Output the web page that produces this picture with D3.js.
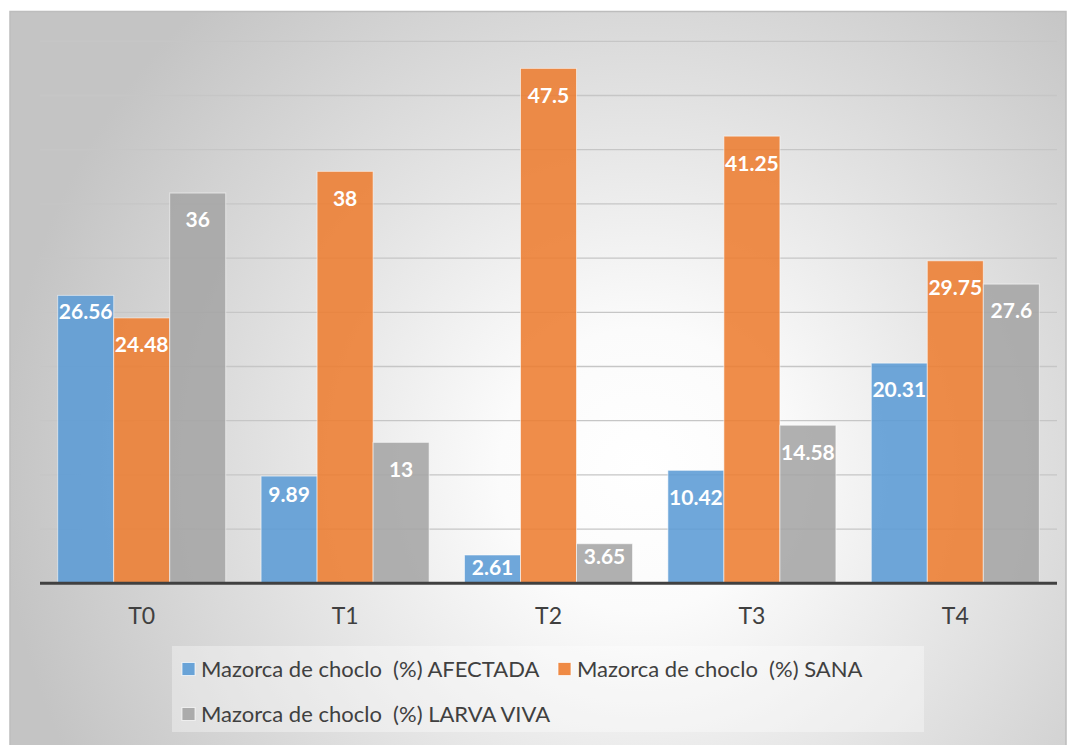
<!DOCTYPE html>
<html>
<head>
<meta charset="utf-8">
<script src="https://cdn.jsdelivr.net/npm/d3@7"></script>
<style>
  html, body { margin: 0; padding: 0; background: #ffffff; }
  svg { display: block; }
</style>
</head>
<body>
<div id="chart"></div>
<script>
(function () {
    'use strict';

    // data
    var categories = ['T0', 'T1', 'T2', 'T3', 'T4'];
    var seriesNames = [
        'Mazorca de choclo  (%) AFECTADA',
        'Mazorca de choclo  (%) SANA',
        'Mazorca de choclo  (%) LARVA VIVA'
    ];
    var afectada = [26.56, 9.89, 2.61, 10.42, 20.31];
    var sana = [24.48, 38, 47.5, 41.25, 29.75];
    var larvaViva = [36, 13, 3.65, 14.58, 27.6];
    var yTicks = [0, 5, 10, 15, 20, 25, 30, 35, 40, 45, 50];

    var seriesValues = [afectada, sana, larvaViva];
    var seriesColors = ['#5B9BD5', '#ED7D31', '#A5A5A5'];

    var width = 1074, height = 745;
    var plot = { left: 40, right: 1057, top: 41.3, bottom: 583.3 };

    var svg = d3.select('#chart').append('svg')
        .attr('width', width)
        .attr('height', height);

    var defs = svg.append('defs');
    var grad = defs.append('radialGradient')
        .attr('id', 'bgGrad')
        .attr('gradientUnits', 'userSpaceOnUse')
        .attr('cx', 640).attr('cy', 470).attr('r', 640);
    grad.append('stop').attr('offset', '0').attr('stop-color', '#ffffff');
    grad.append('stop').attr('offset', '0.22').attr('stop-color', '#fbfbfb');
    grad.append('stop').attr('offset', '1').attr('stop-color', '#c4c4c4');

    // chart frame
    svg.append('rect')
        .attr('x', 10).attr('y', 11.5)
        .attr('width', 1056).attr('height', 740)
        .style('fill', 'url(#bgGrad)')
        .style('stroke', '#bdbdbd')
        .style('stroke-width', 1.5);

    var x0 = d3.scaleBand()
        .domain(categories)
        .range([plot.left, plot.right])
        .paddingInner(0.174)
        .paddingOuter(0.087);

    var x1 = d3.scaleBand()
        .domain(d3.range(seriesValues.length))
        .range([0, x0.bandwidth()]);

    var y = d3.scaleLinear()
        .domain([0, 50])
        .range([plot.bottom, plot.top]);

    // gridlines
    svg.append('g')
        .selectAll('line')
        .data(yTicks.filter(function (t) { return t > 0; }))
        .enter().append('line')
        .attr('x1', plot.left).attr('x2', plot.right)
        .attr('y1', function (d) { return y(d); })
        .attr('y2', function (d) { return y(d); })
        .style('stroke', '#c6c6c6')
        .style('stroke-width', 1.3);

    var rows = [];
    categories.forEach(function (c, ci) {
        seriesValues.forEach(function (vals, si) {
            rows.push({ cat: c, ci: ci, si: si, value: vals[ci] });
        });
    });

    var bars = svg.append('g').selectAll('g')
        .data(rows)
        .enter().append('g');

    bars.append('rect')
        .attr('x', function (d) { return x0(d.cat) + x1(d.si); })
        .attr('y', function (d) { return y(d.value); })
        .attr('width', x1.bandwidth())
        .attr('height', function (d) { return y(0) - y(d.value); })
        .style('fill', function (d) { return seriesColors[d.si]; })
        .style('fill-opacity', 0.88)
        .style('stroke', 'rgba(255,255,255,0.55)')
        .style('stroke-width', 1);

    // a few labels sit a bit higher in the original
    var labelNudge = { 'T0|0': -11, 'T1|0': -8 };

    bars.append('text')
        .attr('x', function (d) { return x0(d.cat) + x1(d.si) + x1.bandwidth() / 2; })
        .attr('y', function (d) {
            var top = y(d.value);
            var h = y(0) - top;
            var c = h < 42 ? top + 13 : top + 27;
            return c + (labelNudge[d.cat + '|' + d.si] || 0);
        })
        .attr('dy', '0.35em')
        .attr('text-anchor', 'middle')
        .style('font-family', 'Lato, "Open Sans", sans-serif')
        .style('font-weight', 700)
        .style('font-size', '21px')
        .style('fill', '#ffffff')
        .text(function (d) { return d.value; });

    // baseline
    svg.append('line')
        .attr('x1', plot.left).attr('x2', plot.right)
        .attr('y1', y(0)).attr('y2', y(0))
        .style('stroke', '#404040')
        .style('stroke-width', 3);

    // category labels
    var xAxis = d3.axisBottom(x0).tickSize(0).tickPadding(0);
    var gx = svg.append('g')
        .attr('transform', 'translate(0,' + (y(0) + 33) + ')')
        .call(xAxis);
    gx.select('.domain').remove();
    gx.selectAll('text')
        .attr('dy', '0.35em')
        .style('font-family', 'Lato, "Open Sans", sans-serif')
        .style('font-size', '23px')
        .style('fill', '#404040');

    // legend
    var legend = svg.append('g');
    legend.append('rect')
        .attr('x', 172).attr('y', 646)
        .attr('width', 752).attr('height', 86)
        .style('fill', 'rgba(255,255,255,0.35)');

    var legendPos = [
        { x: 182, y: 669 },
        { x: 558, y: 669 },
        { x: 182, y: 714 }
    ];

    var items = legend.selectAll('g.item')
        .data(seriesNames)
        .enter().append('g')
        .attr('class', 'item')
        .attr('transform', function (d, i) {
            return 'translate(' + legendPos[i].x + ',' + legendPos[i].y + ')';
        });

    items.append('rect')
        .attr('x', 0).attr('y', -6.5)
        .attr('width', 13).attr('height', 13)
        .style('fill', function (d, i) { return seriesColors[i]; })
        .style('fill-opacity', 0.9)
        .style('stroke', 'rgba(255,255,255,0.7)')
        .style('stroke-width', 1);

    items.append('text')
        .attr('x', 19)
        .attr('dy', '0.35em')
        .style('font-family', 'Lato, "Open Sans", sans-serif')
        .style('font-size', '22px')
        .style('fill', '#404040')
        .style('white-space', 'pre')
        .text(function (d) { return d; });
})();
</script>
</body>
</html>
